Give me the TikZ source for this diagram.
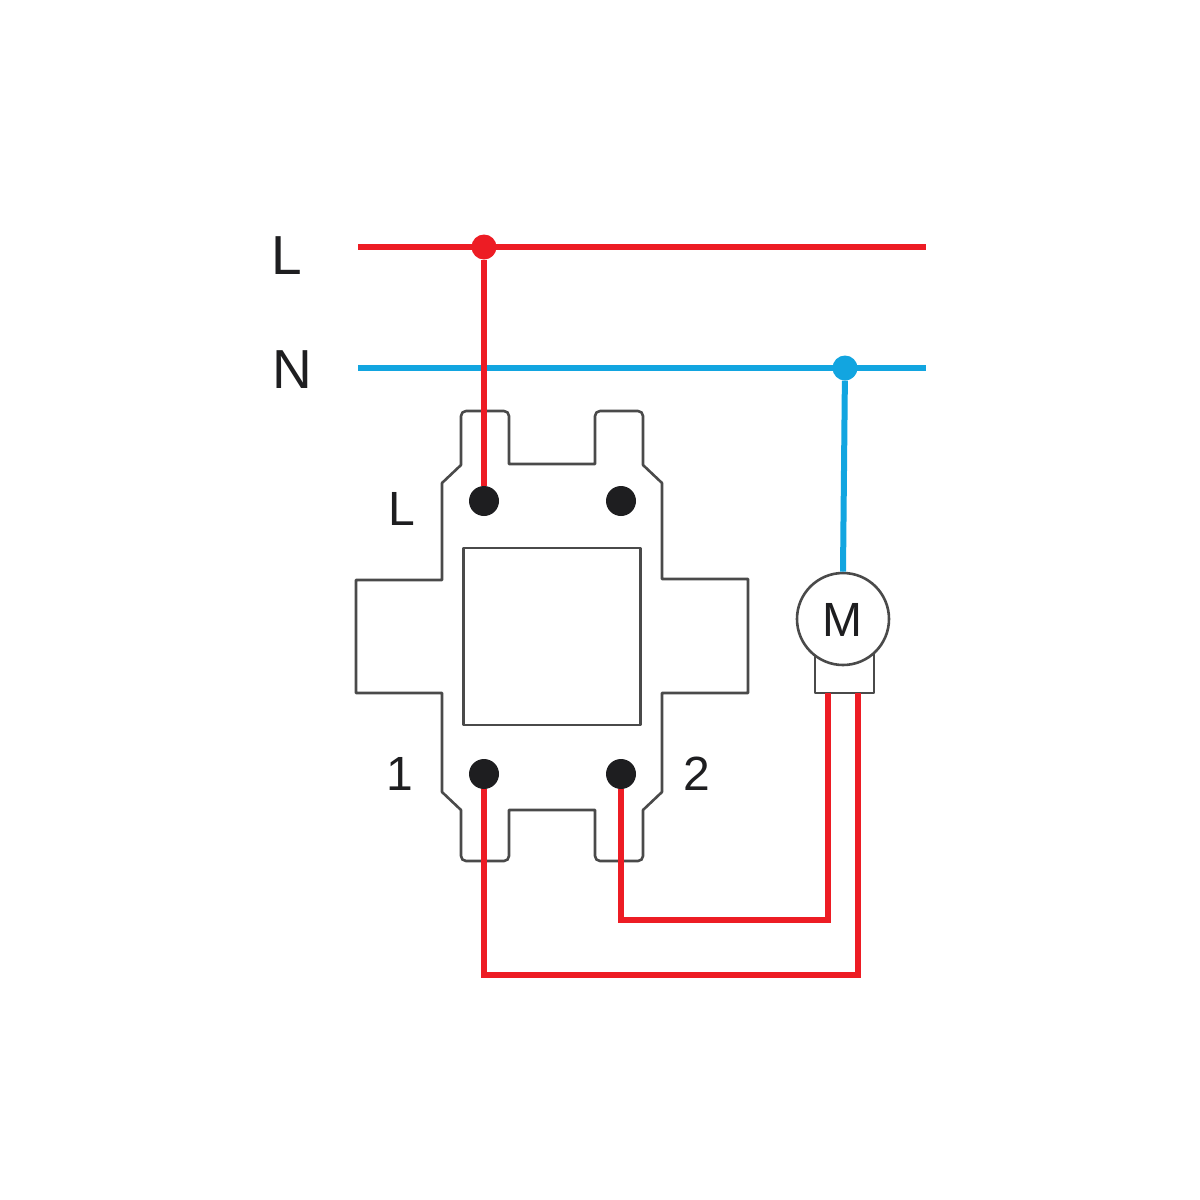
\documentclass[tikz,border=0pt]{standalone}
\usepackage{fontspec}
\setmainfont{Liberation Sans}
\definecolor{wred}{HTML}{ED1C24}
\definecolor{wblue}{HTML}{12A5E0}
\definecolor{out}{HTML}{4A4A4A}
\definecolor{ink}{HTML}{1E1E20}
\tikzset{
  outline/.style={draw=out,line width=2.6pt,line join=round},
  redwire/.style={draw=wred,line width=6pt},
  bluewire/.style={draw=wblue,line width=6pt},
  term/.style={circle,fill=ink,draw=none,minimum size=30pt,inner sep=0pt},
  junc/.style={circle,draw=none,minimum size=25pt,inner sep=0pt},
  lab/.style={text=ink,inner sep=0pt,font=\fontsize{#1}{#1}\selectfont},
  lab/.default=55
}
\begin{document}
\begin{tikzpicture}[x=1pt,y=-1pt]
\useasboundingbox (0,0) rectangle (1200,1200);
\fill[white] (0,0) rectangle (1200,1200);
% switch body
\draw[outline,rounded corners=0pt]
  (461,465) -- (461,418) [rounded corners=5pt] -- (461,411) -- (509,411) [rounded corners=0pt] -- (509,464) -- (595,464)
  -- (595,418) [rounded corners=5pt] -- (595,411) -- (643,411) [rounded corners=0pt] -- (643,465) -- (662,483)
  -- (662,579) -- (748,579) -- (748,693) -- (662,693) -- (662,792) -- (643,810)
  [rounded corners=5pt] -- (643,861) -- (595,861) [rounded corners=0pt] -- (595,810) -- (509,810)
  [rounded corners=5pt] -- (509,861) -- (461,861) [rounded corners=0pt] -- (461,810) -- (442,792)
  -- (442,693) -- (356,693) -- (356,580) -- (442,580) -- (442,483) -- cycle;
\node[outline,draw,minimum width=177pt,minimum height=177pt,inner sep=0pt] (sq) at (552,636.5) {};
% terminals and junctions
\node[term] (tL) at (484,501) {};
\node[term] (tR) at (621,501) {};
\node[term] (t1) at (484,774) {};
\node[term] (t2) at (621,774) {};
\coordinate (Lw) at (358,247);
\coordinate (Le) at (926,247);
\coordinate (Nw) at (358,368);
\coordinate (Ne) at (926,368);
\node[junc,fill=wred] (jL) at (484,247) {};
\node[junc,fill=wblue] (jN) at (845,368) {};
% motor
\node[outline,draw,minimum width=59pt,minimum height=60pt,inner sep=0pt] (mbox) at (844.5,663) {};
\node[outline,draw,fill=white,circle,minimum size=92pt,inner sep=0pt] (mot) at (843,619) {};
\node[lab=48] at (842,620) {M};
% wires
\draw[redwire] (Lw) -- (Le);
\draw[bluewire] (Nw) -- (Ne);
\draw[redwire] (jL) -- (tL);
\draw[bluewire] (jN) -- (mot.north);
\coordinate (m1) at (828,693);
\coordinate (m2) at (858,693);
\draw[redwire] (t2) -- (621,920) -- (828,920) -- (m1);
\draw[redwire] (t1) -- (484,975) -- (858,975) -- (m2);
% labels
\node[lab=55,anchor=base] at (287,274) {L};
\node[lab=55,anchor=base] at (292,388) {N};
\node[lab=48,anchor=base] at (402,525) {L};
\node[lab=48,anchor=base] at (400,790) {1};
\node[lab=48,anchor=base] at (697,790) {2};
\end{tikzpicture}
\end{document}
